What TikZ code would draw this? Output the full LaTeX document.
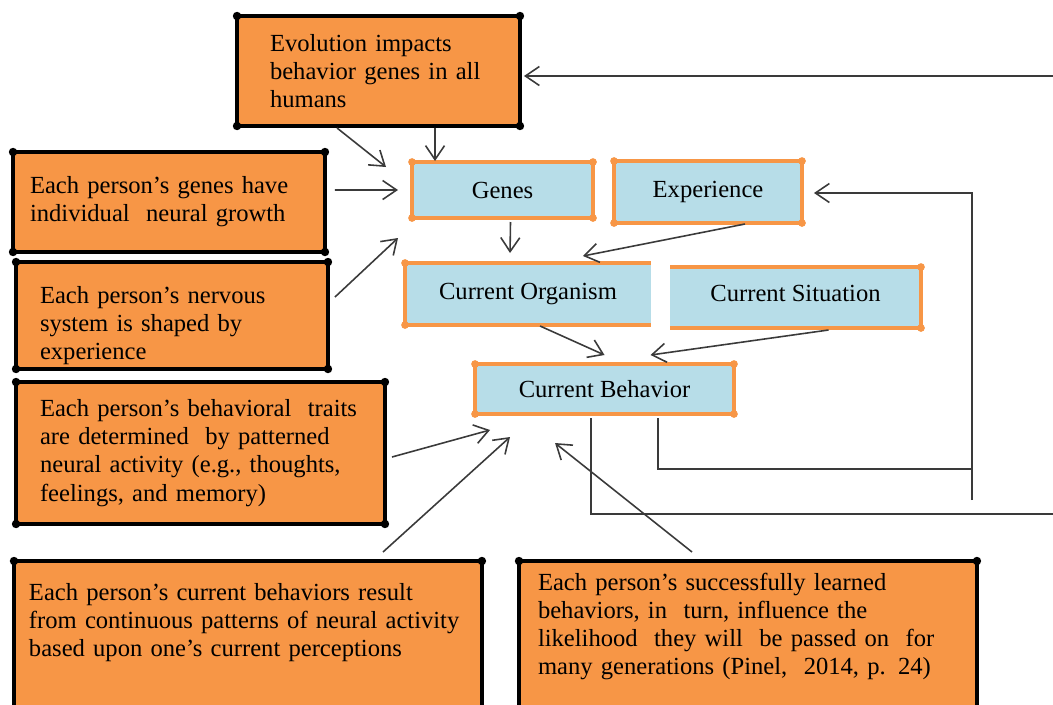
\documentclass[tikz,border=0pt]{standalone}
\usepackage{fontspec}
\setmainfont{Liberation Serif}
\usetikzlibrary{calc,arrows.meta}
\definecolor{boxorange}{HTML}{F79646}
\definecolor{cellblue}{HTML}{B7DDE8}
\definecolor{linegray}{HTML}{3A3A3A}

\begin{document}
\begin{tikzpicture}[x=0.02cm,y=-0.02cm,
  orangebox/.style={fill=boxorange,draw=black,line width=2.6pt,inner sep=0pt,outer sep=0pt,
    align=left,font=\fontsize{14}{16}\selectfont},
  bluebox/.style={fill=cellblue,draw=boxorange,line width=2.3pt,inner sep=0pt,outer sep=0pt,
    font=\fontsize{14}{16}\selectfont},
  conn/.style={draw=linegray,line width=0.9pt,-{Straight Barb[length=2.8mm,width=3.8mm]}},
  wire/.style={draw=linegray,line width=0.9pt}]
  \useasboundingbox (0,0) rectangle (1053,704);
  \clip (0,0) rectangle (1053,704);
  % orange boxes
  \node[orangebox,minimum width=5.66cm,minimum height=2.2cm,text width=4.34cm] (evol) at (378.5,71)
    {Evolution impacts\\behavior genes in all\\humans};
  \node[orangebox,minimum width=6.24cm,minimum height=2cm,text width=5.56cm] (indiv) at (169,202)
    {Each person’s genes have\\individual\ \ neural growth};
  \node[orangebox,minimum width=6.24cm,minimum height=2.14cm,text width=5.28cm,text height=0.74cm] (nerv) at (172,315.5)
    {Each person’s nervous\\system is shaped by\\experience};
  \node[orangebox,minimum width=7.38cm,minimum height=2.84cm,text width=6.42cm] (trait) at (200.5,453)
    {Each person’s behavioral\ \ traits\\are determined\ \ by patterned\\neural activity (e.g., thoughts,\\feelings, and memory)};
  \node[orangebox,anchor=north west,inner xsep=0.3cm,inner ysep=0.44cm,text width=8.76cm,text depth=4cm] (curbeh) at (14,561)
    {Each person’s current behaviors result\\from continuous patterns of neural activity\\based upon one’s current perceptions};
  \node[orangebox,anchor=north west,inner xsep=0.38cm,inner ysep=0.24cm,text width=8.4cm,text depth=4cm] (learn) at (519,561)
    {Each person’s successfully learned\\behaviors, in\ \ turn, influence the\\likelihood\ \ they will\ \ be passed on\ \ for\\many generations (Pinel,\ \ 2014, p. 24)};
  % blue boxes
  \node[bluebox,minimum width=3.62cm,minimum height=1.12cm] (genes) at (502.5,190) {Genes};
  \node[bluebox,minimum width=3.76cm,minimum height=1.24cm] (exper) at (708,192) {Experience};
  \node[bluebox,draw=none,minimum width=4.92cm,minimum height=1.24cm] (organ) at (528,294) {Current Organism};
  \node[bluebox,draw=none,minimum width=5.02cm,minimum height=1.22cm,text depth=0.16cm] (situ) at (795.5,297.5) {Current Situation};
  \node[bluebox,minimum width=5.18cm,minimum height=1cm] (cbeh) at (604.5,389) {Current Behavior};
  \draw[boxorange,line width=2.3pt] (organ.north east) -- (organ.north west) -- (organ.south west) -- (organ.south east);
  \draw[boxorange,line width=2.3pt] (situ.north west) -- (situ.north east) -- (situ.south east) -- (situ.south west);
  % corner dots
  \foreach \n in {evol,indiv,nerv,trait,curbeh,learn}
    \foreach \c in {north west,north east,south west,south east}
      \fill (\n.\c) circle (2.4pt);
  \foreach \n in {genes,exper,cbeh}
    \foreach \c in {north west,north east,south west,south east}
      \fill[boxorange] (\n.\c) circle (2.2pt);
  \foreach \c in {organ.north west,organ.south west,situ.north east,situ.south east}
    \fill[boxorange] (\c) circle (2.2pt);
  % into genes
  \draw[conn] ($(evol.south west)+(100,2)$) -- ($(genes.north west)+(-26,5)$);
  \draw[conn] ($(evol.south west)+(198,2)$) -- ($(genes.north west)+(23,-1)$);
  \draw[conn] ($(indiv.north east)+(10,38)$) -- ($(genes.west)+(-14,0)$);
  \draw[conn] ($(nerv.north east)+(7,35)$) -- ($(genes.south west)+(-14,20)$);
  % into organism
  \draw[conn] ($(genes.south)+(8,4)$) -- ($(organ.north west)+(105,-10)$);
  \draw[conn] ($(exper.south)+(37,1)$) -- ($(organ.north east)+(-68,-7)$);
  % into behavior
  \draw[conn] ($(organ.south west)+(135,1)$) -- ($(cbeh.north)+(0,-9)$);
  \draw[conn] ($(situ.south)+(33,2)$) -- ($(cbeh.north)+(46,-9)$);
  \draw[conn] ($(trait.east)+(7,4)$) -- ($(cbeh.south west)+(15,16)$);
  \draw[conn] ($(curbeh.north west)+(369,-9)$) -- ($(cbeh.south west)+(35,23)$);
  \draw[conn] ($(learn.north west)+(173,-9)$) -- ($(cbeh.south west)+(80,29)$);
  % feedback lines
  \coordinate (topin) at (1053,76);
  \coordinate (loopA) at (972,469);
  \coordinate (loopB) at (972,500);
  \coordinate (rightout) at (1053,514);
  \draw[conn] (topin) -- ($(evol.east)+(4,5)$);
  \draw[wire] ($(cbeh.south west)+(183,4)$) |- (loopA);
  \draw[conn] (loopB) |- ($(exper.east)+(12,1)$);
  \draw[wire] ($(cbeh.south west)+(116,4)$) |- (rightout);
\end{tikzpicture}
\end{document}
